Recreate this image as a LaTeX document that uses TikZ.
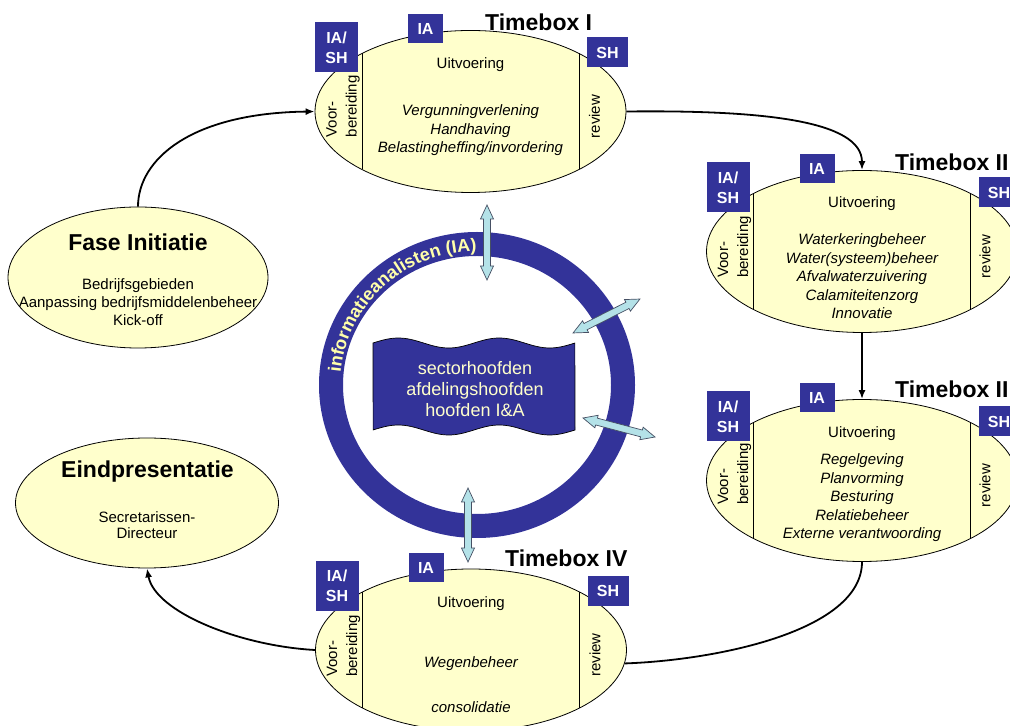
\documentclass[tikz,border=0pt]{standalone}
\usepackage{fontspec}
\setmainfont{Liberation Sans}
\usetikzlibrary{shapes.geometric,arrows.meta,decorations.text}

\definecolor{tbfill}{RGB}{255,255,204}
\definecolor{navy}{RGB}{51,51,153}
\definecolor{ringtxt}{RGB}{255,255,170}
\definecolor{flagtxt}{RGB}{255,255,204}
\definecolor{arrowfill}{RGB}{180,226,232}
\definecolor{arrowline}{RGB}{70,80,100}

\newcommand\ringfont{\fontsize{18}{18}\selectfont\bfseries\color{ringtxt}}

% light-blue two-headed block arrow: centre x, centre y, angle, length
\newcommand\biarrow[4]{%
  \begin{scope}[shift={(#1,#2)},rotate=#3]
    \filldraw[fill=arrowfill,draw=arrowline,line width=0.7pt]
      (-#4/2,0) -- ++(14,6.5) -- ++(0,-3) -- (#4/2-14,3.5) -- ++(0,3)
      -- (#4/2,0) -- (#4/2-14,-6.5) -- ++(0,3) -- (-#4/2+14,-3.5)
      -- ++(0,-3) -- cycle;
  \end{scope}}

\tikzset{
  tb/.style={ellipse, draw, line width=0.8pt, fill=tbfill,
    minimum width=311pt, minimum height=162pt, inner sep=0pt},
  rolebox/.style={fill=navy, text=white, inner sep=0pt, align=center,
    font=\fontsize{16}{20}\selectfont\bfseries},
  tbtitle/.style={font=\fontsize{23}{23}\selectfont\bfseries,
    anchor=base west, inner sep=0pt},
  phasel/.style={font=\fontsize{15}{15}\selectfont, inner sep=0pt},
  taskl/.style={font=\fontsize{15}{18.5}\selectfont\itshape, align=center, inner sep=0pt},
  prepl/.style={font=\fontsize{15}{20}\selectfont, align=left, rotate=90,
    anchor=west, inner sep=0pt},
  revl/.style={font=\fontsize{15}{15}\selectfont, rotate=90, inner sep=0pt},
  divider/.style={line width=0.8pt},
  outer/.style={ellipse, draw, line width=0.8pt, fill=tbfill, inner sep=0pt},
  conn/.style={line width=1.8pt, -{Latex[length=9pt,width=7pt]}},
  connplain/.style={line width=1.8pt},
}

\begin{document}
\begin{tikzpicture}[x=1pt,y=1pt]
\useasboundingbox (0,0) rectangle (1010,726);
\clip (0,0) rectangle (1010,726);

% ---------- central ring with its label ----------
\node[ellipse, draw=navy, line width=24pt, minimum width=292pt,
      minimum height=282pt, inner sep=0pt] (ring) at (477,341) {};
\path[decorate, decoration={text along path, text align=center,
      text={|\ringfont|informatieanalisten (IA)}}]
  (477,341) ++(178:137 and 134)
  arc[start angle=178, end angle=87, x radius=137, y radius=134];

% ---------- wavy banner in the middle ----------
\draw[fill=navy, draw=black, line width=0.7pt]
  plot[domain=0:1, samples=60, variable=\t] ({373+202*\t},{383+5*sin(720*\t)})
  -- plot[domain=1:0, samples=60, variable=\t] ({373+202*\t},{296+5*sin(720*\t)})
  -- cycle;
\node[font=\fontsize{18}{21}\selectfont, text=flagtxt, align=center, inner sep=0pt]
  (banner) at (475,337) {sectorhoofden\\afdelingshoofden\\hoofden I\&A};

% ---------- exchange arrows ----------
\biarrow{487}{483.5}{90}{75}
\biarrow{606.5}{410}{26.9}{75}
\biarrow{619}{298.5}{-14.8}{74.5}
\biarrow{468}{201}{90}{74}

% ---------- Timebox I ----------
\begin{scope}[shift={(470.5,614.5)}]
  \node[tb] (tb1) at (0,0) {};
  \draw[divider] (-108.5,-58) -- (-108.5,58);
  \draw[divider] (108.5,-58) -- (108.5,58);
  \node[rolebox, minimum width=43pt, minimum height=50pt] (tb1ias) at (-134,64) {IA/\\SH};
  \node[rolebox, minimum width=35pt, minimum height=29pt] (tb1ia) at (-45,82.5) {IA};
  \node[rolebox, minimum width=41pt, minimum height=30pt] (tb1sh) at (137,59) {SH};
  \node[tbtitle] (tb1t) at (14.5,81) {Timebox I};
  \node[phasel] (tb1u) at (0,47) {Uitvoering};
  \node[taskl] (tb1k) at (0,-19) {Vergunningverlening\\Handhaving\\Belastingheffing/invordering};
  \node[prepl] (tb1v) at (-127.5,-26) {Voor-\\bereiding};
  \node[revl] (tb1r) at (124,-5) {review};
\end{scope}

% ---------- Timebox II ----------
\begin{scope}[shift={(862,474.5)}]
  \node[tb] (tb2) at (0,0) {};
  \draw[divider] (-108.5,-58) -- (-108.5,58);
  \draw[divider] (108.5,-58) -- (108.5,58);
  \node[rolebox, minimum width=43pt, minimum height=50pt] (tb2ias) at (-134,64) {IA/\\SH};
  \node[rolebox, minimum width=35pt, minimum height=29pt] (tb2ia) at (-45,82.5) {IA};
  \node[rolebox, minimum width=41pt, minimum height=30pt] (tb2sh) at (137,59) {SH};
  \node[tbtitle] (tb2t) at (33,81) {Timebox II};
  \node[phasel] (tb2u) at (0,48) {Uitvoering};
  \node[taskl] (tb2k) at (0,-25) {Waterkeringbeheer\\Water(systeem)beheer\\Afvalwaterzuivering\\Calamiteitenzorg\\Innovatie};
  \node[prepl] (tb2v) at (-127.5,-26.5) {Voor-\\bereiding};
  \node[revl] (tb2r) at (123,-5) {review};
\end{scope}

% ---------- Timebox III ----------
\begin{scope}[shift={(862,245.5)}]
  \node[tb] (tb3) at (0,0) {};
  \draw[divider] (-108.5,-58) -- (-108.5,58);
  \draw[divider] (108.5,-58) -- (108.5,58);
  \node[rolebox, minimum width=43pt, minimum height=50pt] (tb3ias) at (-134,64) {IA/\\SH};
  \node[rolebox, minimum width=35pt, minimum height=29pt] (tb3ia) at (-45,82.5) {IA};
  \node[rolebox, minimum width=41pt, minimum height=30pt] (tb3sh) at (137,59) {SH};
  \node[tbtitle] (tb3t) at (33,83) {Timebox III};
  \node[phasel] (tb3u) at (0,46.5) {Uitvoering};
  \node[taskl] (tb3k) at (0,-17.5) {Regelgeving\\Planvorming\\Besturing\\Relatiebeheer\\Externe verantwoording};
  \node[prepl] (tb3v) at (-127.5,-24.5) {Voor-\\bereiding};
  \node[revl] (tb3r) at (123,-5) {review};
\end{scope}

% ---------- Timebox IV ----------
\begin{scope}[shift={(471,76)}]
  \node[tb] (tb4) at (0,0) {};
  \draw[divider] (-108.5,-58) -- (-108.5,58);
  \draw[divider] (108.5,-58) -- (108.5,58);
  \node[rolebox, minimum width=43pt, minimum height=50pt] (tb4ias) at (-134,64) {IA/\\SH};
  \node[rolebox, minimum width=35pt, minimum height=29pt] (tb4ia) at (-45,82.5) {IA};
  \node[rolebox, minimum width=41pt, minimum height=30pt] (tb4sh) at (137,59) {SH};
  \node[tbtitle] (tb4t) at (34,83) {Timebox IV};
  \node[phasel] (tb4u) at (0,46) {Uitvoering};
  \node[taskl] (tb4k) at (0,-14) {Wegenbeheer};
  \node[taskl] (tb4c) at (0,-57) {consolidatie};
  \node[prepl] (tb4v) at (-127.5,-27) {Voor-\\bereiding};
  \node[revl] (tb4r) at (124,-5) {review};
\end{scope}

% ---------- start and end phases ----------
\node[outer, minimum width=260pt, minimum height=141pt] (fase) at (138,448.5) {};
\node[font=\fontsize{23}{23}\selectfont\bfseries, inner sep=0pt] (faset) at (138,484) {Fase Initiatie};
\node[font=\fontsize{15}{18}\selectfont, align=center, inner sep=0pt] (fasel) at (138,424)
  {Bedrijfsgebieden\\Aanpassing bedrijfsmiddelenbeheer\\Kick-off};

\node[outer, minimum width=263pt, minimum height=130pt] (eind) at (147,223) {};
\node[font=\fontsize{23}{23}\selectfont\bfseries, inner sep=0pt] (eindt) at (147.5,254) {Eindpresentatie};
\node[font=\fontsize{15}{16.5}\selectfont, align=center, inner sep=0pt] (eindl) at (147,201)
  {Secretarissen-\\Directeur};

% ---------- flow between the phases ----------
\draw[conn] (fase.north) .. controls (138,566) and (190,613) .. (tb1.west);
\draw[conn] (tb1.east) .. controls (760,616) and (862,606) .. (tb2.north);
\draw[conn] (tb2.south) -- (tb3.north);
\draw[connplain] (tb3.south) .. controls (862,96) and (720,66) .. (tb4.-5);
\draw[conn] (tb4.west) .. controls (240,80) and (155,114) .. (eind.south);

\end{tikzpicture}
\end{document}
